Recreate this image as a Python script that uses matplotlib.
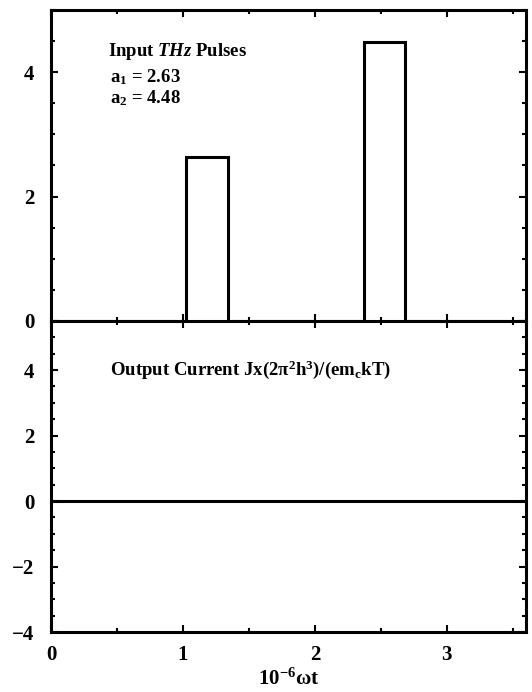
import matplotlib
matplotlib.use("Agg")
import matplotlib.pyplot as plt
from matplotlib.ticker import MultipleLocator
import numpy as np

# ---- data ----
pulse_starts = [1.02, 2.37]
pulse_ends = [1.34, 2.68]
amplitudes = [2.63, 4.48]
t_range = [0.0, 3.6]
out_t = [0.0, 3.6]
out_j = [0.0, 0.0]

# build step waveform of input pulses
t_in = [t_range[0]]
v_in = [0.0]
for s, e, a in zip(pulse_starts, pulse_ends, amplitudes):
    t_in += [s, s, e, e]
    v_in += [0.0, a, a, 0.0]
t_in.append(t_range[1])
v_in.append(0.0)

plt.rcParams['font.family'] = ['Liberation Serif', 'DejaVu Serif']
plt.rcParams['font.weight'] = 'bold'
plt.rcParams['mathtext.fontset'] = 'custom'
plt.rcParams['mathtext.rm'] = 'Liberation Serif:bold'
plt.rcParams['mathtext.bf'] = 'Liberation Serif:bold'
plt.rcParams['mathtext.it'] = 'Liberation Serif:italic'
plt.rcParams['mathtext.fallback'] = 'stix'

fig = plt.figure(figsize=(5.32, 6.92), dpi=100)
L, R = 51 / 532, 526 / 532
ytop, ymid, ybot = 1 - 10 / 692, 1 - 321 / 692, 1 - 632 / 692
ax1 = fig.add_axes([L, ymid, R - L, ytop - ymid])
ax2 = fig.add_axes([L, ybot, R - L, ymid - ybot], sharex=ax1)

lw = 2.2
ax1.plot(t_in, v_in, color='black', lw=lw, solid_joinstyle='miter')
ax2.plot(out_t, out_j, color='black', lw=lw)

ax1.set_ylim(0, 5)
ax2.set_ylim(-4, 5.5)
ax1.set_xlim(0, 3.6)

for ax in (ax1, ax2):
    for sp in ax.spines.values():
        sp.set_linewidth(lw)
    ax.xaxis.set_major_locator(MultipleLocator(1))
    ax.xaxis.set_minor_locator(MultipleLocator(0.5))
    ax.yaxis.set_major_locator(MultipleLocator(2))
    ax.yaxis.set_minor_locator(MultipleLocator(0.5))
    ax.tick_params(which='both', direction='in', top=True, right=True,
                   width=1.5, labelsize=15)
    ax.tick_params(axis='y', pad=12)
    ax.tick_params(axis='x', pad=9)
    ax.tick_params(which='major', length=5)
    ax.tick_params(which='minor', length=3)
    for lab in ax.get_yticklabels() + ax.get_xticklabels():
        lab.set_fontweight('bold')

ax1.tick_params(labelbottom=False)
ax1.spines['bottom'].set_visible(False)

fs = 13.5
ax1.text(0.12, 0.865, r"Input $\mathit{THz}$ Pulses", transform=ax1.transAxes,
         fontsize=fs, fontweight='bold', ha='left', va='center')
ax1.text(0.125, 0.785, r"a$_1$ = 2.63", transform=ax1.transAxes,
         fontsize=fs, fontweight='bold', ha='left', va='center')
ax1.text(0.125, 0.717, r"a$_2$ = 4.48", transform=ax1.transAxes,
         fontsize=fs, fontweight='bold', ha='left', va='center')
ax2.text(0.124, 0.842, r"Output Current Jx(2π$^2$h$^3$)/(em$_\mathrm{c}$kT)",
         transform=ax2.transAxes, fontsize=fs, fontweight='bold',
         ha='left', va='center')

ax2.set_xlabel(r"10$^{-6}$ωt", fontsize=15, fontweight='bold', labelpad=3)

fig.savefig("out.png", dpi=100)
